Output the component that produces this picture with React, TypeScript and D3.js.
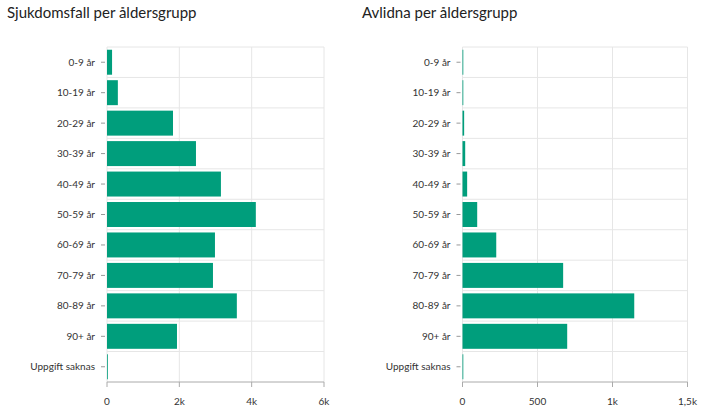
import * as d3 from "d3";

const ageGroups = [
  "0-9 år",
  "10-19 år",
  "20-29 år",
  "30-39 år",
  "40-49 år",
  "50-59 år",
  "60-69 år",
  "70-79 år",
  "80-89 år",
  "90+ år",
  "Uppgift saknas",
];

const cases = [140, 300, 1825, 2460, 3150, 4115, 2985, 2930, 3590, 1935, 10];
const deaths = [1, 2, 11, 18, 31, 98, 225, 671, 1145, 698, 1];

const casesTicks = [0, 2000, 4000, 6000];
const casesTickLabels = ["0", "2k", "4k", "6k"];
const deathsTicks = [0, 500, 1000, 1500];
const deathsTickLabels = ["0", "500", "1k", "1,5k"];

const FONT = "Lato, 'Open Sans', sans-serif";
const BAR = "#009e7c";
const GRID = "#e6e6e6";

type PanelProps = {
  title: string;
  values: number[];
  ticks: number[];
  tickLabels: string[];
  left: number;
  right: number;
  titleX: number;
};

const top = 47;
const bottom = 382;

function Panel({ title, values, ticks, tickLabels, left, right, titleX }: PanelProps) {
  const x = d3
    .scaleLinear()
    .domain([ticks[0], ticks[ticks.length - 1]])
    .range([left, right]);
  const y = d3
    .scaleBand<string>()
    .domain(ageGroups)
    .range([top, bottom])
    .paddingInner(0.18)
    .paddingOuter(0.09);
  const step = y.step();

  return (
    <g>
      <text x={titleX} y={18} fontSize={15} fill="#222" fontFamily={FONT}>
        {title}
      </text>

      {/* horizontal grid at band edges */}
      {ageGroups.map((c, i) => (
        <line
          key={"h" + i}
          x1={left}
          x2={right}
          y1={top + i * step}
          y2={top + i * step}
          stroke={GRID}
        />
      ))}

      {/* vertical grid */}
      {ticks.map((t) => (
        <line key={"v" + t} x1={x(t)} x2={x(t)} y1={top} y2={bottom} stroke={GRID} />
      ))}

      {/* bars */}
      {ageGroups.map((c, i) => (
        <rect
          key={c}
          x={x(0)}
          y={y(c)}
          width={Math.max(0.8, x(values[i]) - x(0))}
          height={y.bandwidth()}
          fill={BAR}
        />
      ))}

      {/* y axis ticks + labels */}
      {ageGroups.map((c) => {
        const cy = (y(c) as number) + y.bandwidth() / 2;
        return (
          <g key={"yl" + c}>
            <line x1={left - 6} x2={left - 2} y1={cy} y2={cy} stroke="#999" />
            <text
              x={left - 12}
              y={cy}
              dy="0.35em"
              textAnchor="end"
              fontSize={10}
              fill="#333"
              fontFamily={FONT}
            >
              {c}
            </text>
          </g>
        );
      })}

      {/* x axis */}
      <line x1={left} x2={right} y1={bottom} y2={bottom} stroke="#aaa" />
      {ticks.map((t, i) => (
        <g key={"xt" + t}>
          <line x1={x(t)} x2={x(t)} y1={bottom} y2={bottom + 5} stroke="#aaa" />
          <text
            x={x(t)}
            y={bottom + 19}
            dy="0.35em"
            textAnchor="middle"
            fontSize={10}
            fill="#333"
            fontFamily={FONT}
          >
            {tickLabels[i]}
          </text>
        </g>
      ))}
    </g>
  );
}

export default function App() {
  return (
    <svg
      width={705}
      height={415}
      style={{ position: "absolute", left: 0, top: 0, background: "#fff" }}
    >
      <Panel
        title="Sjukdomsfall per åldersgrupp"
        values={cases}
        ticks={casesTicks}
        tickLabels={casesTickLabels}
        left={107}
        right={324}
        titleX={7}
      />
      <Panel
        title="Avlidna per åldersgrupp"
        values={deaths}
        ticks={deathsTicks}
        tickLabels={deathsTickLabels}
        left={462.5}
        right={687.5}
        titleX={362}
      />
    </svg>
  );
}
